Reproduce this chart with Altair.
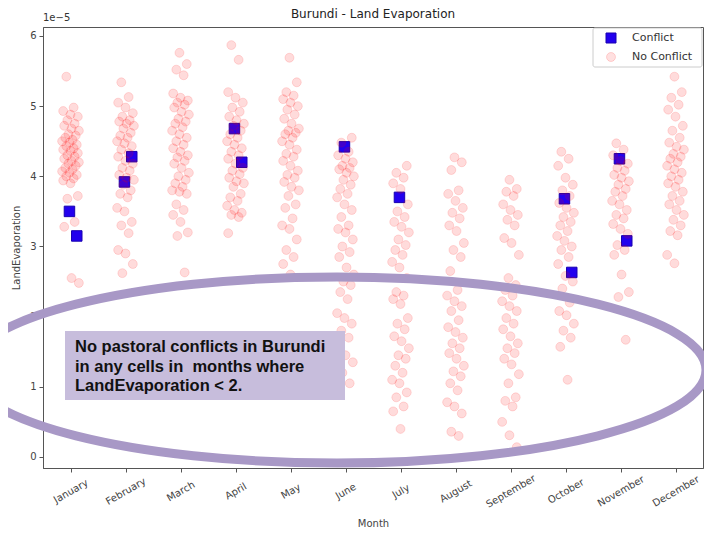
import altair as alt
import pandas as pd

months = ["January", "February", "March", "April", "May", "June", "July",
          "August", "September", "October", "November", "December"]

# Land evaporation values (units of 1e-5) for cells without conflict, by month
no_conflict = {
    "January": [5.42, 4.98, 4.93, 4.88, 4.85, 4.8, 4.75, 4.72, 4.68, 4.65, 4.6, 4.58, 4.55, 4.52, 4.5,
                4.48, 4.45, 4.43, 4.4, 4.38, 4.36, 4.33, 4.3, 4.28, 4.25, 4.22, 4.2, 4.18, 4.15, 4.12,
                4.1, 4.07, 4.05, 4.02, 4.0, 3.97, 3.94, 3.9, 3.72, 3.68, 3.35, 3.28, 2.55, 2.48],
    "February": [5.34, 5.13, 5.05, 4.98, 4.9, 4.85, 4.8, 4.78, 4.75, 4.72, 4.68, 4.62, 4.58, 4.55, 4.5,
                 4.47, 4.43, 4.38, 4.33, 4.28, 4.22, 4.18, 4.12, 4.08, 4.02, 3.98, 3.95, 3.88, 3.8,
                 3.75, 3.7, 3.55, 3.5, 3.35, 3.3, 3.19, 2.95, 2.9, 2.75, 2.62],
    "March": [5.76, 5.6, 5.52, 5.44, 5.18, 5.12, 5.08, 5.05, 5.02, 4.98, 4.92, 4.88, 4.82, 4.78, 4.75,
              4.7, 4.65, 4.6, 4.55, 4.5, 4.45, 4.4, 4.35, 4.3, 4.27, 4.22, 4.18, 4.12, 4.05, 4.0,
              3.95, 3.9, 3.85, 3.8, 3.78, 3.75, 3.6, 3.52, 3.45, 3.35, 3.2, 3.15, 2.63],
    "April": [5.87, 5.66, 5.2, 5.12, 5.05, 4.98, 4.92, 4.85, 4.8, 4.75, 4.72, 4.65, 4.6, 4.55, 4.5,
              4.45, 4.4, 4.35, 4.3, 4.25, 4.18, 4.12, 4.08, 4.03, 3.98, 3.93, 3.9, 3.85, 3.75, 3.7,
              3.65, 3.58, 3.52, 3.48, 3.45, 3.42, 3.19],
    "May": [5.69, 5.34, 5.2, 5.15, 5.1, 5.05, 5.0, 4.95, 4.88, 4.82, 4.75, 4.68, 4.65, 4.62, 4.6, 4.55,
            4.5, 4.45, 4.38, 4.32, 4.28, 4.22, 4.15, 4.08, 4.02, 3.98, 3.92, 3.85, 3.8, 3.72, 3.6,
            3.55, 3.4, 3.3, 3.25, 3.1, 2.95, 2.85, 2.75, 2.6],
    "June": [4.55, 4.48, 4.35, 4.3, 4.25, 4.2, 4.15, 4.12, 4.1, 4.05, 4.0, 3.95, 3.88, 3.82, 3.75, 3.7,
             3.6, 3.52, 3.42, 3.3, 3.25, 3.2, 3.1, 3.0, 2.92, 2.85, 2.7, 2.6, 2.5, 2.45, 2.35, 2.25,
             2.05, 1.98, 1.9, 1.8, 1.7, 1.55, 1.45, 1.35, 1.2, 1.05],
    "July": [4.15, 4.05, 3.98, 3.9, 3.82, 3.6, 3.5, 3.42, 3.35, 3.28, 3.2, 3.1, 3.02, 2.95, 2.88, 2.78,
             2.7, 2.55, 2.35, 2.3, 2.25, 2.18, 1.98, 1.9, 1.82, 1.72, 1.65, 1.55, 1.45, 1.4, 1.3,
             1.2, 1.1, 1.05, 0.92, 0.85, 0.72, 0.65, 0.4],
    "August": [4.27, 4.2, 4.09, 3.8, 3.75, 3.65, 3.55, 3.48, 3.4, 3.3, 3.22, 3.05, 2.95, 2.85, 2.65,
               2.38, 2.3, 2.22, 2.15, 2.08, 1.95, 1.85, 1.78, 1.7, 1.62, 1.55, 1.48, 1.4, 1.3, 1.22,
               1.15, 1.05, 0.95, 0.78, 0.72, 0.62, 0.36, 0.3],
    "September": [3.95, 3.82, 3.78, 3.72, 3.6, 3.52, 3.45, 3.38, 3.3, 3.12, 3.05, 2.88, 2.55, 2.45,
                  2.38, 2.3, 2.22, 2.15, 2.08, 1.98, 1.9, 1.82, 1.72, 1.62, 1.55, 1.48, 1.4, 1.32,
                  1.18, 1.05, 0.85, 0.8, 0.72, 0.5, 0.31, 0.14],
    "October": [4.35, 4.25, 4.15, 3.98, 3.88, 3.8, 3.72, 3.62, 3.55, 3.48, 3.42, 3.35, 3.3, 3.22, 3.15,
                3.08, 3.0, 2.95, 2.85, 2.75, 2.58, 2.5, 2.4, 2.2, 2.08, 2.02, 1.9, 1.8, 1.7, 1.57, 1.1],
    "November": [4.47, 4.38, 4.3, 4.22, 4.18, 4.12, 4.08, 4.02, 3.98, 3.93, 3.88, 3.82, 3.78, 3.72,
                 3.65, 3.6, 3.52, 3.45, 3.4, 3.32, 3.25, 3.18, 3.02, 2.95, 2.88, 2.6, 2.35, 2.28, 1.67],
    "December": [5.42, 5.2, 5.12, 5.02, 4.95, 4.85, 4.72, 4.65, 4.55, 4.48, 4.42, 4.38, 4.32, 4.28,
                 4.25, 4.2, 4.15, 4.1, 4.05, 4.0, 3.95, 3.9, 3.85, 3.78, 3.72, 3.65, 3.6, 3.52, 3.45,
                 3.38, 3.3, 3.22, 3.16, 2.88, 2.76],
}

# Land evaporation values (units of 1e-5) for cells with conflict
conflict = {
    "January": [3.5, 3.15],
    "February": [3.92, 4.28],
    "April": [4.68, 4.2],
    "June": [4.42],
    "July": [3.7],
    "October": [3.68, 2.63],
    "November": [4.25, 3.08],
}

title_text = "Burundi - Land Evaporation"
note_lines = ["No pastoral conflicts in Burundi",
              "in any cells in \u00a0months where",
              "LandEvaporation < 2."]
status_dom = ["Conflict", "No Conflict"]

rows = []
for m, vals in conflict.items():
    for v in vals:
        rows.append({"m": months.index(m), "Month": m, "value": v, "status": "Conflict"})
for m, vals in no_conflict.items():
    for v in vals:
        rows.append({"m": months.index(m), "Month": m, "value": v, "status": "No Conflict"})
df = pd.DataFrame(rows)

W, H = 660, 441
label_expr = "[" + ",".join("'%s'" % m for m in months) + "][datum.value]"

BLUE, BLUE_EDGE, RED = "#2200ee", "#1800b0", "#ff0000"

points = alt.Chart(df).transform_window(
    rn="row_number()", groupby=["m"]
).transform_calculate(
    xj="datum.m + (((datum.rn * 7) % 17) - 8) * 0.019"
).mark_point(filled=True, strokeWidth=1, opacity=1).encode(
    x=alt.X("xj:Q", title="Month",
            scale=alt.Scale(domain=[-0.5, 11.5], nice=False, zero=False),
            axis=alt.Axis(values=list(range(12)), labelExpr=label_expr, labelAngle=330,
                          labelAlign="center", labelBaseline="middle", labelPadding=19,
                          tickSize=4, titlePadding=9, grid=False)),
    y=alt.Y("value:Q", title="LandEvaporation",
            scale=alt.Scale(domain=[-0.157, 6.128], nice=False, zero=False),
            axis=alt.Axis(values=[0, 1, 2, 3, 4, 5, 6], tickSize=4, labelPadding=3,
                          titlePadding=8, grid=False)),
    color=alt.Color("status:N", scale=alt.Scale(domain=status_dom, range=[BLUE, RED]), legend=None),
    stroke=alt.Stroke("status:N", scale=alt.Scale(domain=status_dom, range=[BLUE_EDGE, RED]), legend=None),
    shape=alt.Shape("status:N", scale=alt.Scale(domain=status_dom, range=["square", "circle"]), legend=None),
    size=alt.Size("status:N", scale=alt.Scale(domain=status_dom, range=[110, 80]), legend=None),
    fillOpacity=alt.FillOpacity("status:N", scale=alt.Scale(domain=status_dom, range=[1, 0.14]), legend=None),
    strokeOpacity=alt.StrokeOpacity("status:N", scale=alt.Scale(domain=status_dom, range=[1, 0.13]), legend=None),
)

one = alt.Data(values=[{"k": 0}])

r = 93 / 369
k = 0.5523
ell_path = ("M -1 0 C -1 {a} {b} {c} 0 {c} C {kk} {c} 1 {a} 1 0 "
            "C 1 {na} {kk} {r} 0 {r} C {b} {r} -1 {na} -1 0 Z").format(
    a=-k * r, b=-k, c=-r, kk=k, na=k * r, r=r)

ellipse = alt.Chart(one).mark_point(
    shape=ell_path, filled=False, stroke="#a898c6", strokeWidth=9, opacity=1
).encode(x=alt.value(294), y=alt.value(343), size=alt.value(738 * 738))

box = alt.Chart(one).mark_rect(fill="#c7bddc").encode(
    x=alt.value(22), x2=alt.value(302), y=alt.value(304), y2=alt.value(373))

note = alt.Chart(one).mark_text(
    text=note_lines, align="left", baseline="top", font="Liberation Sans",
    fontWeight="bold", fontSize=16.5, lineHeight=19.5, color="#111111"
).encode(x=alt.value(32), y=alt.value(312))

offset_txt = alt.Chart(one).mark_text(
    text="1e\u22125", align="left", baseline="middle", font="DejaVu Sans",
    fontSize=10, color="#333333"
).encode(x=alt.value(0), y=alt.value(-9))

title_mark = alt.Chart(one).mark_text(
    text=title_text, align="center", baseline="middle", font="DejaVu Sans",
    fontSize=12, color="#222222"
).encode(x=alt.value(W / 2), y=alt.value(-13))

# legend (drawn by hand so that the "No Conflict" swatch keeps its transparency)
LX0, LX1 = W - 110, W - 1
leg_box = alt.Chart(one).mark_rect(fill="white", stroke="#cccccc", strokeWidth=1, cornerRadius=2).encode(
    x=alt.value(LX0), x2=alt.value(LX1), y=alt.value(1), y2=alt.value(40))
leg_sq = alt.Chart(one).mark_point(shape="square", filled=True, fill=BLUE, stroke=BLUE_EDGE,
                                   strokeWidth=1, opacity=1).encode(
    x=alt.value(LX0 + 18), y=alt.value(11), size=alt.value(100))
leg_ci = alt.Chart(one).mark_point(shape="circle", filled=True, fill=RED, stroke=RED,
                                   strokeWidth=1, fillOpacity=0.12, strokeOpacity=0.15).encode(
    x=alt.value(LX0 + 18), y=alt.value(30), size=alt.value(80))
leg_t1 = alt.Chart(one).mark_text(text=status_dom[0], align="left", baseline="middle",
                                  font="DejaVu Sans", fontSize=11, color="#333333").encode(
    x=alt.value(LX0 + 39), y=alt.value(11))
leg_t2 = alt.Chart(one).mark_text(text=status_dom[1], align="left", baseline="middle",
                                  font="DejaVu Sans", fontSize=11, color="#333333").encode(
    x=alt.value(LX0 + 39), y=alt.value(30))

chart = alt.layer(points, ellipse, box, note, offset_txt, title_mark,
                  leg_box, leg_sq, leg_ci, leg_t1, leg_t2).properties(
    width=W, height=H,
    autosize=alt.AutoSizeParams(type="none"),
    padding={"left": 35, "top": 19, "right": 1, "bottom": 65},
).configure_view(
    stroke="#555555", strokeWidth=1
).configure_axis(
    labelFont="DejaVu Sans", titleFont="DejaVu Sans", labelFontSize=10, titleFontSize=10,
    titleFontWeight="normal", labelColor="#444444", titleColor="#444444",
    domainColor="#555555", tickColor="#555555"
)

chart.save("out.html", embed_options={"renderer": "svg", "actions": False})
